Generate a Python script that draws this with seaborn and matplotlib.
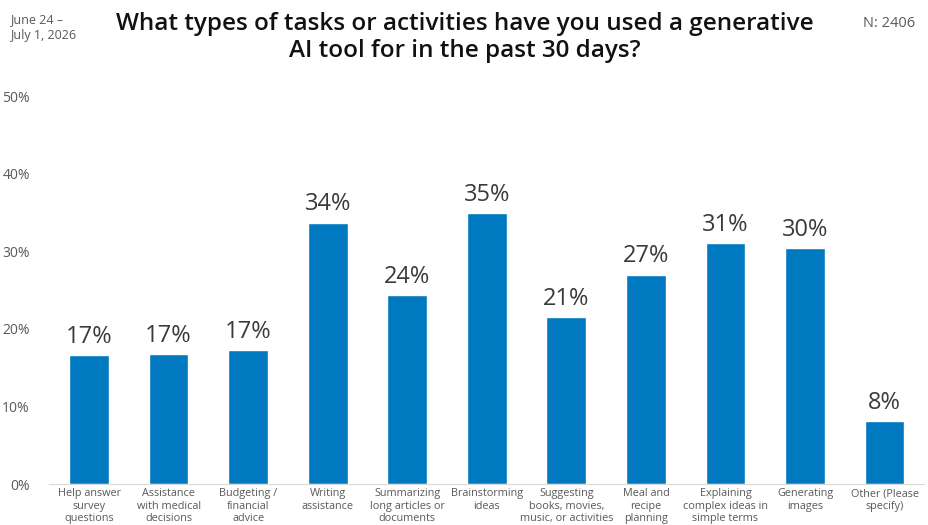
import numpy as np
import pandas as pd
import seaborn as sns
import matplotlib.pyplot as plt

categories = [
    "Help answer\nsurvey\nquestions",
    "Assistance\nwith medical\ndecisions",
    "Budgeting /\nfinancial\nadvice",
    "Writing\nassistance",
    "Summarizing\nlong articles or\ndocuments",
    "Brainstorming\nideas",
    "Suggesting\nbooks, movies,\nmusic, or activities",
    "Meal and\nrecipe\nplanning",
    "Explaining\ncomplex ideas in\nsimple terms",
    "Generating\nimages",
    "Other (Please\nspecify)",
]
values = [16.6, 16.7, 17.3, 33.7, 24.4, 34.9, 21.5, 27.0, 31.1, 30.4, 8.1]
labels = ["17%", "17%", "17%", "34%", "24%", "35%", "21%", "27%", "31%", "30%", "8%"]
yticks = [0, 10, 20, 30, 40, 50]

df = pd.DataFrame({"task": categories, "pct": values})

sns.set_style("white")
plt.rcParams["font.family"] = ["Open Sans", "DejaVu Sans"]

fig = plt.figure(figsize=(9.29, 5.25), dpi=100)
ax = fig.add_axes([0.053, 0.078, 0.942, 0.739])
sns.barplot(data=df, x="task", y="pct", color="#0079C1", saturation=1, width=0.5, ax=ax)

for i, (v, lab) in enumerate(zip(values, labels)):
    ax.text(i, v + 0.8, lab, ha="center", va="bottom", fontsize=17, color="#3a3a3a")

ax.set_xlim(-0.5, len(categories) - 0.5)
ax.set_ylim(0, 50)
ax.set_yticks(yticks)
ax.set_yticklabels([f"{t}%" for t in yticks], fontsize=10, color="#595959")
ax.tick_params(axis="x", labelsize=7.8, labelcolor="#595959", length=0, pad=3)
ax.tick_params(axis="y", length=0, pad=14)
ax.set_xlabel("")
ax.set_ylabel("")
for s in ["top", "right", "left"]:
    ax.spines[s].set_visible(False)
ax.spines["bottom"].set_color("#d9d9d9")
ax.spines["bottom"].set_linewidth(0.8)

fig.text(0.5, 0.978, "What types of tasks or activities have you used a generative\nAI tool for in the past 30 days?",
         ha="center", va="top", fontsize=17.5, fontweight="semibold", color="#111111", linespacing=1.2)
fig.text(0.011, 0.975, "June 24 \u2013\nJuly 1, 2026", ha="left", va="top", fontsize=9, color="#595959", linespacing=1.3)
fig.text(0.985, 0.97, "N: 2406", ha="right", va="top", fontsize=10.5, color="#595959")

fig.savefig("out.png", dpi=100)
